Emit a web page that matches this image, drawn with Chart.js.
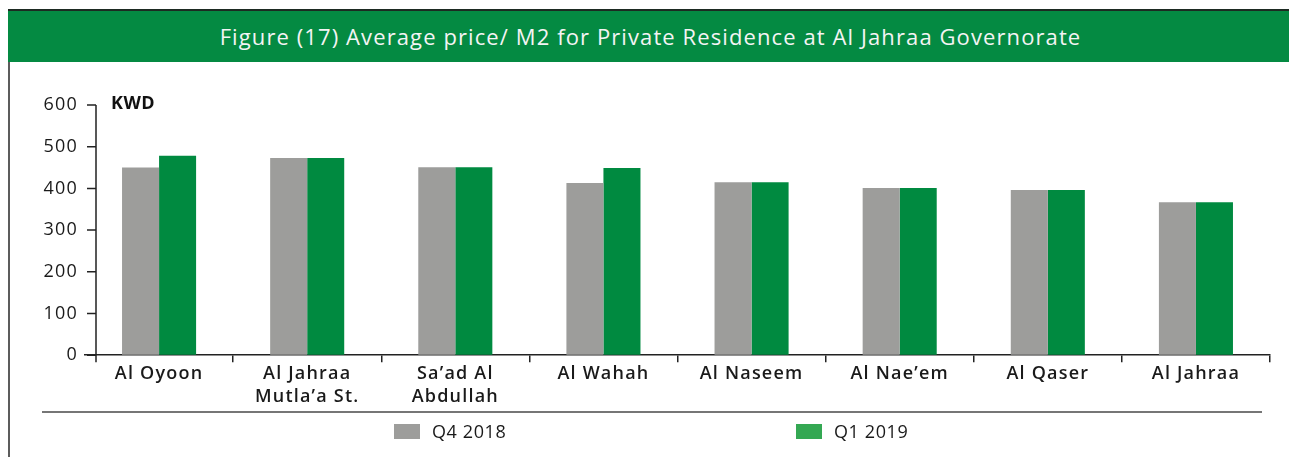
<!DOCTYPE html>
<html>
<head>
<meta charset="utf-8">
<script src="https://cdn.jsdelivr.net/npm/chart.js@4.4.1/dist/chart.umd.min.js"></script>
<style>
    html, body { margin: 0; padding: 0; background: #fff; overflow: hidden; }
    body { width: 1289px; height: 457px; position: relative; font-family: 'Open Sans', sans-serif; }
    #frameLeft { position: absolute; left: 8px; top: 9px; width: 2px; height: 448px; background: #5c5c5c; }
    #header {
        position: absolute; left: 8px; top: 9px; width: 1290px; height: 51px;
        background: #048a42; border-top: 2px solid #1d2a22;
        color: #f4f4f4; font-size: 22px; letter-spacing: 1.1px; line-height: 51px;
    }
    #header span { position: absolute; left: 0; width: 1285px; text-align: center; }
    #chartBox { position: absolute; left: 0; top: 62px; width: 1289px; height: 395px; }
    #rule { position: absolute; left: 42px; top: 411px; width: 1220px; height: 2px; background: #767676; }
    #legend { position: absolute; left: 394px; top: 419px; display: flex; }
    #legend .item { display: flex; align-items: center; width: 402px; font-size: 18px; letter-spacing: 0.6px; color: #1a1a1a; }
    #legend .item:last-child { width: auto; }
    #legend .swatch { width: 26px; height: 15px; margin-right: 12px; }
</style>
</head>
<body>
<div id="frameLeft"></div>
<div id="header"><span>Figure (17) Average price/ M2 for Private Residence at Al Jahraa Governorate</span></div>
<div id="chartBox"><canvas id="priceChart"></canvas></div>
<div id="rule"></div>
<div id="legend"></div>
<script>
const categories = ['Al Oyoon', ['Al Jahraa', 'Mutla’a St.'], ['Sa’ad Al', 'Abdullah'], 'Al Wahah', 'Al Naseem', 'Al Nae’em', 'Al Qaser', 'Al Jahraa'];
const seriesNames = ['Q4 2018', 'Q1 2019'];
const q4_2018 = [450, 473, 451, 413, 415, 401, 396, 367];
const q1_2019 = [478, 473, 451, 449, 415, 401, 396, 367];
const yMin = 0, yMax = 600, yStep = 100;
const unitLabel = 'KWD';

const barColours = ['#9d9d9b', '#008a40'];
const legendColours = ['#9d9d9b', '#34a853'];

// y axis line sits a little inside the plot area, like the original
const axisInset = 11;

const spacingPlugin = {
    id: 'letterSpacing',
    beforeDraw(chart) {
        chart.ctx.letterSpacing = '1.2px';
    }
};

const yAxisPlugin = {
    id: 'yAxisLine',
    afterDraw(chart) {
        const ctx = chart.ctx;
        const area = chart.chartArea;
        const y = chart.scales.y;
        const x0 = area.left + axisInset;
        ctx.save();
        ctx.strokeStyle = '#222';
        ctx.lineWidth = 1.5;
        ctx.beginPath();
        ctx.moveTo(x0, area.top);
        ctx.lineTo(x0, area.bottom + 7);
        y.ticks.forEach(t => {
            const py = y.getPixelForValue(t.value);
            ctx.moveTo(x0 - 9, py);
            ctx.lineTo(x0, py);
        });
        ctx.stroke();
        ctx.fillStyle = '#111';
        ctx.font = 'bold 18px "Open Sans"';
        ctx.letterSpacing = '0.5px';
        ctx.textBaseline = 'middle';
        ctx.fillText(unitLabel, x0 + 15, y.getPixelForValue(yMax) - 1);
        ctx.restore();
    }
};

const htmlLegend = {
    id: 'htmlLegend',
    afterUpdate(chart) {
        const box = document.getElementById('legend');
        box.innerHTML = '';
        chart.data.datasets.forEach((ds, i) => {
            const item = document.createElement('div');
            item.className = 'item';
            const sw = document.createElement('span');
            sw.className = 'swatch';
            sw.style.background = legendColours[i];
            const txt = document.createElement('span');
            txt.textContent = ds.label;
            item.appendChild(sw);
            item.appendChild(txt);
            box.appendChild(item);
        });
    }
};

document.addEventListener('DOMContentLoaded', function () {
    const ctx = document.getElementById('priceChart').getContext('2d');
    new Chart(ctx, {
        type: 'bar',
        data: {
            labels: categories,
            datasets: [
                { label: seriesNames[0], data: q4_2018, backgroundColor: barColours[0] },
                { label: seriesNames[1], data: q1_2019, backgroundColor: barColours[1] }
            ]
        },
        options: {
            responsive: true,
            maintainAspectRatio: false,
            animation: false,
            categoryPercentage: 0.5,
            barPercentage: 1.0,
            layout: { padding: { top: 43, left: 0, right: 19, bottom: 48 } },
            plugins: {
                legend: { display: false },
                tooltip: { enabled: false }
            },
            scales: {
                x: {
                    offset: true,
                    border: { display: true, color: '#222', width: 1.5 },
                    grid: {
                        offset: true,
                        drawOnChartArea: false,
                        tickLength: 7,
                        lineWidth: 1.5,
                        color: c => (c.index === 0 ? 'rgba(0,0,0,0)' : '#222')
                    },
                    ticks: {
                        padding: 0,
                        color: '#1a1a1a',
                        maxRotation: 0,
                        autoSkip: false,
                        font: { family: 'Open Sans', size: 18, weight: '600', lineHeight: 1.3 }
                    }
                },
                y: {
                    min: yMin,
                    max: yMax,
                    border: { display: false },
                    grid: { display: true, drawOnChartArea: false, drawTicks: false, color: 'rgba(0,0,0,0)' },
                    afterFit: scale => { scale.width = 85; },
                    ticks: {
                        stepSize: yStep,
                        padding: 7,
                        color: '#1a1a1a',
                        font: { family: 'Open Sans', size: 18 }
                    }
                }
            }
        },
        plugins: [spacingPlugin, yAxisPlugin, htmlLegend]
    });
});
</script>
</body>
</html>
